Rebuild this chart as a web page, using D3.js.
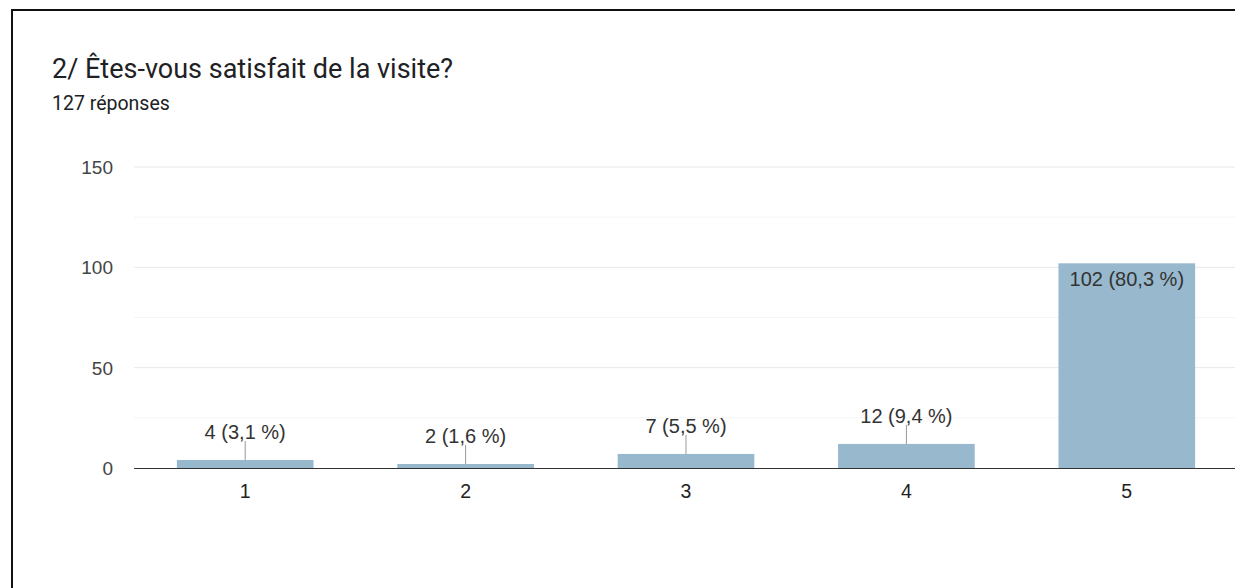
<!DOCTYPE html>
<html>
<head>
<meta charset="utf-8">
<script src="https://cdn.jsdelivr.net/npm/d3@7"></script>
<style>
  body { margin: 0; background: #fff; }
  svg { display: block; }
</style>
</head>
<body>
<script>
var categories = ["1", "2", "3", "4", "5"];
var counts = [4, 2, 7, 12, 102];
var percents = ["3,1", "1,6", "5,5", "9,4", "80,3"];
var yTicks = [0, 50, 100, 150];
var yMinor = [25, 75, 125];

var W = 1235, H = 588;
var margin = {top: 167, right: 0, bottom: 120, left: 134};
var labelFont = "Arial, 'Liberation Sans', sans-serif";

var svg = d3.select("body").append("svg")
  .attr("width", W)
  .attr("height", H);

// black frame (cropped on right and bottom)
svg.append("path")
  .attr("d", "M12,600 L12,10 L1240,10")
  .attr("fill", "none")
  .attr("stroke", "#111")
  .attr("stroke-width", 2);

svg.append("text")
  .attr("x", 52).attr("y", 78)
  .attr("font-family", "Roboto, sans-serif")
  .attr("font-size", 27)
  .attr("fill", "#202124")
  .text("2/ Êtes-vous satisfait de la visite?");

svg.append("text")
  .attr("x", 52).attr("y", 110)
  .attr("font-family", "Roboto, sans-serif")
  .attr("font-size", 19.5)
  .attr("fill", "#202124")
  .text("127 réponses");

var x = d3.scaleBand()
  .domain(categories)
  .range([margin.left + 1, W + 2])
  .paddingInner(0.38)
  .paddingOuter(0.19);

var y = d3.scaleLinear()
  .domain([0, 150])
  .range([468, 167]);

var g = svg.append("g");

g.selectAll("line.minor")
  .data(yMinor)
  .enter().append("line")
    .attr("class", "minor")
    .attr("x1", margin.left).attr("x2", W)
    .attr("y1", function(d) { return y(d); })
    .attr("y2", function(d) { return y(d); })
    .attr("stroke", "#f4f4f4")
    .attr("stroke-width", 1);

g.selectAll("line.major")
  .data(yTicks.filter(function(d) { return d > 0; }))
  .enter().append("line")
    .attr("class", "major")
    .attr("x1", margin.left).attr("x2", W)
    .attr("y1", function(d) { return y(d); })
    .attr("y2", function(d) { return y(d); })
    .attr("stroke", "#e8e8e8")
    .attr("stroke-width", 1);

g.selectAll("text.ytick")
  .data(yTicks)
  .enter().append("text")
    .attr("class", "ytick")
    .attr("x", 113)
    .attr("y", function(d) { return y(d); })
    .attr("dy", "0.36em")
    .attr("text-anchor", "end")
    .attr("font-family", labelFont)
    .attr("font-size", 19)
    .attr("fill", "#444")
    .text(function(d) { return d; });

var data = categories.map(function(c, i) {
  return {cat: c, v: counts[i], pct: percents[i]};
});

g.selectAll("rect.bar")
  .data(data)
  .enter().append("rect")
    .attr("class", "bar")
    .attr("x", function(d) { return x(d.cat); })
    .attr("width", x.bandwidth())
    .attr("y", function(d) { return y(d.v); })
    .attr("height", function(d) { return y(0) - y(d.v); })
    .attr("fill", "#97b8cd");

// baseline
g.append("line")
  .attr("x1", margin.left).attr("x2", W)
  .attr("y1", y(0) + 0.5).attr("y2", y(0) + 0.5)
  .attr("stroke", "#333")
  .attr("stroke-width", 1);

var outside = data.filter(function(d) { return d.v < 50; });
var inside = data.filter(function(d) { return d.v >= 50; });

g.selectAll("line.leader")
  .data(outside)
  .enter().append("line")
    .attr("class", "leader")
    .attr("x1", function(d) { return x(d.cat) + x.bandwidth() / 2; })
    .attr("x2", function(d) { return x(d.cat) + x.bandwidth() / 2; })
    .attr("y1", function(d) { return y(d.v) - 19; })
    .attr("y2", function(d) { return y(d.v); })
    .attr("stroke", "#999")
    .attr("stroke-width", 1);

g.selectAll("text.lbl")
  .data(outside)
  .enter().append("text")
    .attr("class", "lbl")
    .attr("x", function(d) { return x(d.cat) + x.bandwidth() / 2; })
    .attr("y", function(d) { return y(d.v) - 28; })
    .attr("dy", "0.36em")
    .attr("text-anchor", "middle")
    .attr("font-family", labelFont)
    .attr("font-size", 20)
    .attr("fill", "#333")
    .text(function(d) { return d.v + " (" + d.pct + " %)"; });

g.selectAll("text.lblIn")
  .data(inside)
  .enter().append("text")
    .attr("class", "lblIn")
    .attr("x", function(d) { return x(d.cat) + x.bandwidth() / 2; })
    .attr("y", function(d) { return y(d.v) + 15; })
    .attr("dy", "0.36em")
    .attr("text-anchor", "middle")
    .attr("font-family", labelFont)
    .attr("font-size", 20)
    .attr("fill", "#333")
    .text(function(d) { return d.v + " (" + d.pct + " %)"; });

g.selectAll("text.xtick")
  .data(categories)
  .enter().append("text")
    .attr("class", "xtick")
    .attr("x", function(d) { return x(d) + x.bandwidth() / 2; })
    .attr("y", 498)
    .attr("text-anchor", "middle")
    .attr("font-family", labelFont)
    .attr("font-size", 19.5)
    .attr("fill", "#222")
    .text(function(d) { return d; });
</script>
</body>
</html>
